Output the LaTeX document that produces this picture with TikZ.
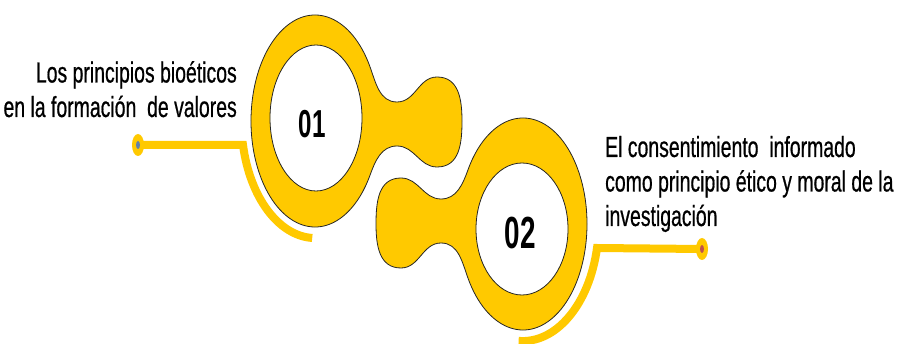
\documentclass[tikz,border=0pt]{standalone}
\usepackage{fontspec}
\setmainfont{Liberation Sans}
\newfontfamily\descfont[FakeStretch=0.67, FakeBold=0.6]{Liberation Sans}
\newfontfamily\numfont[FakeStretch=0.62]{Liberation Sans}
\usetikzlibrary{shapes.geometric, positioning}
\definecolor{keyyellow}{RGB}{255,201,0}
\definecolor{dotblue}{RGB}{96,128,170}
\definecolor{dotred}{RGB}{192,80,77}

\begin{document}
\begin{tikzpicture}[x=1pt, y=1pt,
  blob/.style={fill=keyyellow, draw=black!85, line width=0.8pt, even odd rule},
  connector/.style={draw=keyyellow, line width=8pt},
  enddot/.style={ellipse, fill=keyyellow, minimum width=12pt, minimum height=22pt, inner sep=0pt},
  core/.style={ellipse, minimum width=4pt, minimum height=8pt, inner sep=0pt},
  desc/.style={font=\descfont\fontsize{29}{34.5}\selectfont, text=black, inner sep=0pt},
  num/.style={font=\numfont\bfseries\fontsize{#1}{#1}\selectfont, text=black, inner sep=0pt}]
  \useasboundingbox (0,0) rectangle (897,-344);

  % Connectors
  \coordinate (d1) at (138,-145);
  \coordinate (k1) at (243,-145);
  \coordinate (d2) at (702,-249);
  \coordinate (k2) at (597,-248);
  \draw[connector] (d1) -- (k1) arc[start angle=191.8, end angle=267.5, x radius=74, y radius=117];
  \draw[connector] (d2) -- (k2) arc[start angle=-11.8, end angle=-93, x radius=76, y radius=117];
  \node[enddot] (dot1) at (d1) {};
  \node[core, fill=dotblue] (core1) at (d1) {};
  \node[enddot] (dot2) at (d2) {};
  \node[core, fill=dotred] (core2) at (d2) {};

  % Rings with knobs
  \foreach \cx/\cy/\rot/\ix/\iy/\iry in {315/-121/0/1/3/73, 523/-224/180/1/5/66} {
    \begin{scope}[shift={(\cx,\cy)}, rotate=\rot]
      \path[blob] (31:64 and 106) arc[start angle=31, end angle=329, x radius=64, y radius=106]
        to[out=70, in=180] (82,-25) to[out=0, in=180] (122,-46)
        to[out=0, in=-90, looseness=1.1] (147,0) to[out=90, in=0, looseness=1.1] (122,44)
        to[out=180, in=0] (82,19) to[out=180, in=-70] cycle
        (\ix,\iy) ellipse[x radius=46, y radius=\iry];
    \end{scope}
  }

  % Numbers
  \node[num=39] (n1) at (312,-124) {01};
  \node[num=45] (n2) at (520,-233) {02};

  % Texts
  \node[desc, align=right, anchor=base east] (t1) at (237,-117) {Los principios bioéticos\\en la formación~ de valores};
  \node[desc, align=left, anchor=base west] (t2) at (605,-226) {El consentimiento~ informado\\como principio ético y moral de la\\investigación};
\end{tikzpicture}
\end{document}
